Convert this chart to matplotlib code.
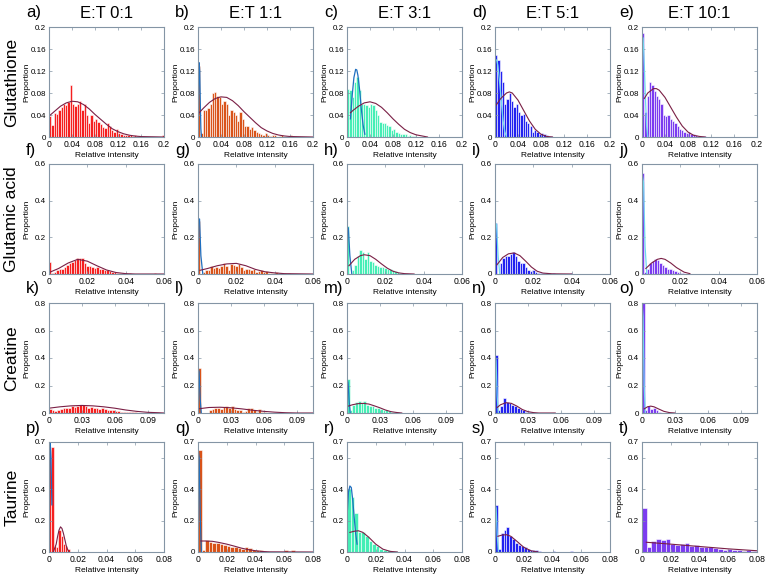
import matplotlib
matplotlib.use("Agg")
import matplotlib.pyplot as plt

plt.rcParams['font.family'] = ['Liberation Sans', 'DejaVu Sans']
plt.rcParams['xtick.direction'] = 'in'
plt.rcParams['ytick.direction'] = 'in'

# labels
ratios = ["E:T 0:1", "E:T 1:1", "E:T 3:1", "E:T 5:1", "E:T 10:1"]
metabolites = ["Glutathione", "Glutamic acid", "Creatine", "Taurine"]
letters = "abcdefghijklmnopqrst"

# colours: one per ratio column
bar_colors = ["#f52020", "#d95319", "#45eeb5", "#2222f0", "#7b3cf0"]
narrow_colors = ["#1f6fc0", "#1f6fc0", "#1f6fc0", "#6fd8f0", "#6fd8f0"]
fit_color = "#7a1f45"

# axis ranges per metabolite row
x_max = [0.2, 0.06, 0.105, 0.08]
x_ticks = [[0, 0.04, 0.08, 0.12, 0.16, 0.2],
           [0, 0.02, 0.04, 0.06],
           [0, 0.03, 0.06, 0.09],
           [0, 0.02, 0.04, 0.06, 0.08]]
x_ticklabels = [["0", "0.04", "0.08", "0.12", "0.16", "0.2"],
                ["0", "0.02", "0.04", "0.06"],
                ["0", "0.03", "0.06", "0.09"],
                ["0", "0.02", "0.04", "0.06", "0.08"]]
y_max = [0.2, 0.6, 0.8, 0.7]
y_ticks = [[0, 0.04, 0.08, 0.12, 0.16, 0.2],
           [0, 0.2, 0.4, 0.6],
           [0, 0.2, 0.4, 0.6, 0.8],
           [0, 0.2, 0.4, 0.6, 0.7]]
y_ticklabels = [["0", "0.04", "0.08", "0.12", "0.16", "0.2"],
                ["0", "0.2", "0.4", "0.6"],
                ["0", "0.2", "0.4", "0.6", "0.8"],
                ["0", "0.2", "0.4", "0.6", "0.7"]]

# histogram bin widths
bin_widths = [[0.004, 0.004, 0.004, 0.004, 0.004],
              [0.0013, 0.0013, 0.0013, 0.0013, 0.0013],
              [0.0025, 0.0025, 0.0025, 0.0025, 0.0025],
              [0.0016, 0.0025, 0.0025, 0.002, 0.0033]]

# ---- Glutathione (a-e) ----
glutathione_bars = [
    [0.039, 0.022, 0.043, 0.041, 0.05, 0.055, 0.06, 0.058, 0.063, 0.095,
     0.06, 0.057, 0.06, 0.065, 0.05, 0.06, 0.04, 0.025, 0.04, 0.03,
     0.033, 0.028, 0.024, 0.018, 0.016, 0.025, 0.02, 0.012, 0.01, 0.015,
     0.007, 0.006, 0.004, 0.003, 0.003, 0.003, 0.002, 0.003, 0.002, 0,
     0, 0, 0, 0, 0, 0, 0, 0, 0, 0.003],
    [0.13, 0.008, 0.05, 0.05, 0.052, 0.06, 0.08, 0.082, 0.075, 0.072,
     0.06, 0.065, 0.06, 0.04, 0.05, 0.045, 0.04, 0.03, 0.045, 0.033,
     0.02, 0.02, 0.015, 0.018, 0.012, 0.01, 0.008, 0.005, 0.003, 0.008,
     0.004, 0.002, 0.004, 0.003, 0, 0.002, 0.003, 0, 0, 0, 0.003],
    [0.088, 0.085, 0.072, 0.1, 0.11, 0.085, 0.06, 0.06, 0.058, 0.055,
     0.06, 0.058, 0.05, 0.04, 0.027, 0.025, 0.025, 0.022, 0.02, 0.012,
     0.015, 0.01, 0.008, 0.006, 0.005, 0.006, 0.002, 0.003, 0.001, 0.002],
    [0.15, 0.14, 0.12, 0.1, 0.06, 0.07, 0.08, 0.065, 0.055, 0.06,
     0.045, 0.04, 0.042, 0.03, 0.025, 0.02, 0.01, 0.013, 0.01, 0.005,
     0.008, 0.006, 0.004, 0.002, 0.002],
    [0.19, 0.045, 0.075, 0.1, 0.095, 0.083, 0.075, 0.07, 0.06, 0.04,
     0.038, 0.04, 0.033, 0.03, 0.025, 0.02, 0.015, 0.012, 0.01, 0.008,
     0.01, 0.006, 0.005, 0.004, 0.002, 0.002, 0.001, 0.001],
]
glutathione_fit_x = [
    [0, 0.01, 0.02, 0.03, 0.04, 0.05, 0.06, 0.07, 0.08, 0.09, 0.1, 0.11,
     0.12, 0.13, 0.14, 0.15, 0.16, 0.2],
    [0, 0.01, 0.02, 0.03, 0.04, 0.05, 0.06, 0.07, 0.08, 0.09, 0.1, 0.11,
     0.12, 0.13, 0.14, 0.15, 0.16, 0.2],
    [0.006, 0.01, 0.02, 0.03, 0.04, 0.05, 0.06, 0.07, 0.08, 0.09, 0.1,
     0.11, 0.12, 0.13, 0.14],
    [0.002, 0.01, 0.02, 0.025, 0.03, 0.04, 0.05, 0.06, 0.07, 0.08, 0.09,
     0.1],
    [0.004, 0.01, 0.02, 0.025, 0.03, 0.04, 0.05, 0.06, 0.07, 0.08, 0.09,
     0.1, 0.11],
]
glutathione_fit_y = [
    [0.038, 0.047, 0.056, 0.062, 0.065, 0.064, 0.059, 0.051, 0.041, 0.032,
     0.023, 0.015, 0.0097, 0.0058, 0.0032, 0.0017, 0.0008, 0],
    [0.042, 0.053, 0.063, 0.07, 0.073, 0.072, 0.066, 0.057, 0.046, 0.036,
     0.026, 0.017, 0.011, 0.0065, 0.0036, 0.0019, 0.0009, 0],
    [0.044, 0.048, 0.056, 0.062, 0.064, 0.061, 0.054, 0.044, 0.033, 0.023,
     0.014, 0.008, 0.004, 0.002, 0],
    [0.058, 0.07, 0.08, 0.082, 0.08, 0.067, 0.048, 0.029, 0.014, 0.005,
     0.001, 0],
    [0.07, 0.08, 0.088, 0.088, 0.085, 0.072, 0.054, 0.036, 0.02, 0.009,
     0.003, 0.001, 0],
]
glutathione_narrow_x = [
    None,
    [0, 0.001, 0.002, 0.003, 0.004, 0.005, 0.006],
    [0.006, 0.009, 0.012, 0.015, 0.017, 0.019, 0.022, 0.025, 0.028, 0.031],
    [0.001, 0.003, 0.005, 0.008, 0.011, 0.014, 0.017, 0.02],
    [0.002, 0.004, 0.006, 0.008, 0.01],
]
glutathione_narrow_y = [
    None,
    [0.02, 0.09, 0.135, 0.12, 0.06, 0.015, 0],
    [0.033, 0.075, 0.108, 0.123, 0.122, 0.112, 0.085, 0.05, 0.022, 0.005],
    [0.14, 0.14, 0.13, 0.1, 0.065, 0.03, 0.01, 0],
    [0.18, 0.13, 0.07, 0.02, 0],
]

# ---- Glutamic acid (f-j) ----
glutamic_bars = [
    [0.065, 0.005, 0.01, 0.02, 0.025, 0.03, 0.04, 0.05, 0.06, 0.065,
     0.075, 0.09, 0.085, 0.09, 0.06, 0.045, 0.045, 0.04, 0.035, 0.04,
     0.03, 0.025, 0.02, 0.02, 0.015, 0.012, 0.01, 0.005, 0.008, 0.004,
     0.003, 0.002, 0.003, 0.002, 0.001, 0.002, 0, 0, 0, 0, 0, 0, 0.005],
    [0.29, 0, 0.01, 0.02, 0.02, 0.045, 0.035, 0.04, 0.035, 0.045,
     0.06, 0.045, 0.02, 0.055, 0.05, 0.045, 0.055, 0.04, 0.02, 0.025,
     0.03, 0.02, 0.025, 0.01, 0.015, 0.02, 0.01, 0.015, 0.008, 0.005,
     0.005, 0.01, 0.003, 0.003, 0.003, 0, 0.005],
    [0.26, 0, 0.02, 0.05, 0.1, 0.13, 0.12, 0.08, 0.12, 0.07,
     0.065, 0.05, 0.045, 0.04, 0.04, 0.035, 0.03, 0.025, 0.02, 0.015,
     0.012, 0.008, 0.005],
    [0.28, 0, 0.06, 0.09, 0.1, 0.1, 0.11, 0.12, 0.1, 0.07,
     0.06, 0.06, 0.04, 0.02, 0.015, 0.02, 0.01, 0.005, 0.003, 0.008,
     0.006, 0.003, 0, 0.005, 0, 0, 0, 0, 0, 0, 0.004],
    [0.55, 0.01, 0.03, 0.06, 0.07, 0.08, 0.075, 0.06, 0.05, 0.04,
     0.03, 0.025, 0.02, 0.015, 0.01, 0.008, 0.005],
]
glutamic_fit_x = [
    [0, 0.005, 0.01, 0.015, 0.02, 0.025, 0.03, 0.035, 0.04, 0.045, 0.06],
    [0.001, 0.005, 0.01, 0.015, 0.02, 0.025, 0.03, 0.035, 0.04, 0.045, 0.06],
    [0.001, 0.004, 0.007, 0.009, 0.012, 0.015, 0.018, 0.021, 0.024, 0.027,
     0.03, 0.035],
    [0.001, 0.004, 0.007, 0.01, 0.013, 0.016, 0.019, 0.022, 0.025, 0.03,
     0.04],
    [0.002, 0.005, 0.008, 0.01, 0.012, 0.015, 0.018, 0.022, 0.025],
]
glutamic_fit_y = [
    [0.008, 0.03, 0.06, 0.08, 0.07, 0.045, 0.022, 0.008, 0.002, 0, 0],
    [0.02, 0.03, 0.045, 0.055, 0.058, 0.045, 0.025, 0.012, 0.006, 0.002, 0],
    [0.045, 0.08, 0.1, 0.105, 0.1, 0.08, 0.055, 0.032, 0.015, 0.006,
     0.002, 0],
    [0.05, 0.09, 0.11, 0.115, 0.1, 0.07, 0.038, 0.015, 0.005, 0.001, 0],
    [0.03, 0.06, 0.08, 0.085, 0.08, 0.06, 0.035, 0.01, 0.002],
]
glutamic_narrow_x = [
    None,
    [0, 0.0008, 0.0015, 0.0025],
    [0, 0.0007, 0.0015, 0.0025],
    [0, 0.0008, 0.0016, 0.0025],
    [0, 0.0008, 0.0016, 0.0025],
]
glutamic_narrow_y = [
    None,
    [0.3, 0.3, 0.1, 0],
    [0.26, 0.25, 0.1, 0],
    [0.28, 0.27, 0.1, 0],
    [0.55, 0.5, 0.15, 0],
]

# ---- Creatine (k-o) ----
creatine_bars = [
    [0.03, 0.02, 0.015, 0.02, 0.03, 0.04, 0.035, 0.04, 0.05, 0.045,
     0.05, 0.06, 0.055, 0.05, 0.04, 0.045, 0.04, 0.035, 0.03, 0.04,
     0.03, 0.025, 0.02, 0.02, 0.015, 0.012, 0.01, 0.008, 0.01, 0.005,
     0.006, 0.004, 0.003, 0.002],
    [0.33, 0, 0, 0, 0.02, 0.03, 0.04, 0.04, 0.03, 0.045,
     0.05, 0.04, 0.05, 0.03, 0.02, 0.025, 0.01, 0.015, 0.035, 0.04,
     0.02, 0.01, 0.03, 0.01, 0.005],
    [0.25, 0.02, 0.06, 0.08, 0.09, 0.07, 0.09, 0.06, 0.05, 0.05,
     0.04, 0.04, 0.03, 0.025, 0.02, 0.015, 0.01, 0.008, 0.005],
    [0.42, 0.02, 0.05, 0.11, 0.08, 0.07, 0.06, 0.05, 0.04, 0.03,
     0.02, 0.01, 0.008, 0.005],
    [0.8, 0.02, 0.05, 0.03, 0.04, 0.02, 0.01],
]
creatine_fit_x = [
    [0, 0.01, 0.02, 0.03, 0.04, 0.05, 0.06, 0.07, 0.08, 0.09, 0.1, 0.105],
    [0, 0.01, 0.02, 0.03, 0.04, 0.05, 0.06, 0.07, 0.08, 0.09, 0.105],
    [0.001, 0.005, 0.01, 0.015, 0.02, 0.025, 0.03, 0.035, 0.04, 0.045, 0.05],
    [0.002, 0.005, 0.01, 0.015, 0.02, 0.025, 0.03, 0.035, 0.04, 0.055],
    [0.002, 0.005, 0.008, 0.011, 0.015, 0.02, 0.025, 0.03],
]
creatine_fit_y = [
    [0.035, 0.045, 0.052, 0.055, 0.052, 0.045, 0.035, 0.022, 0.012, 0.005,
     0.002, 0],
    [0.03, 0.04, 0.042, 0.038, 0.03, 0.02, 0.012, 0.006, 0.002, 0, 0],
    [0.05, 0.06, 0.068, 0.07, 0.065, 0.052, 0.038, 0.022, 0.01, 0.004, 0],
    [0.04, 0.06, 0.075, 0.07, 0.05, 0.025, 0.01, 0.003, 0, 0],
    [0.03, 0.045, 0.05, 0.045, 0.03, 0.012, 0.003, 0],
]
creatine_narrow_x = [
    None,
    [0, 0.001, 0.002, 0.003],
    [0, 0.001, 0.002, 0.003],
    [0, 0.001, 0.002, 0.003],
    [0, 0.001, 0.002, 0.003],
]
creatine_narrow_y = [
    None,
    [0.33, 0.3, 0.1, 0],
    [0.25, 0.22, 0.08, 0],
    [0.42, 0.38, 0.12, 0],
    [0.8, 0.7, 0.2, 0],
]

# ---- Taurine (p-t) ----
taurine_bars = [
    [0.65, 0.67, 0.04, 0.03, 0.14, 0.1, 0.05, 0.04, 0.02],
    [0.65, 0.01, 0.075, 0.065, 0.06, 0.055, 0.05, 0.045, 0.04, 0.035,
     0.03, 0.025, 0.02, 0.03, 0.025, 0.015, 0.012, 0.01, 0.005, 0,
     0, 0, 0, 0, 0.01, 0, 0.01],
    [0.4, 0.35, 0.25, 0.13, 0.13, 0.1, 0.07, 0.05, 0.04, 0.02,
     0.015, 0.01, 0.005, 0.005, 0.003, 0.003, 0.002, 0.003],
    [0.3, 0.02, 0.12, 0.14, 0.16, 0.1, 0.08, 0.06, 0.045, 0.04,
     0.03, 0.02, 0.015, 0.01, 0.01, 0.008, 0, 0, 0, 0,
     0.006, 0, 0, 0, 0, 0, 0.005, 0, 0, 0, 0, 0, 0, 0.003],
    [0.28, 0.03, 0.07, 0.08, 0.075, 0.08, 0.05, 0.045, 0.05, 0.055,
     0.04, 0.045, 0.035, 0.03, 0.035, 0.025, 0.02, 0.015, 0.02, 0.015,
     0.01, 0.008, 0.01, 0.005],
]
taurine_fit_x = [
    [0.003, 0.005, 0.006, 0.007, 0.008, 0.009, 0.01, 0.011, 0.012, 0.013,
     0.014],
    [0.002, 0.005, 0.01, 0.015, 0.02, 0.025, 0.03, 0.035, 0.04, 0.045,
     0.05, 0.08],
    [0.002, 0.005, 0.008, 0.011, 0.015, 0.02, 0.025, 0.03, 0.035],
    [0.002, 0.005, 0.008, 0.011, 0.015, 0.02, 0.025, 0.03],
    [0.003, 0.02, 0.04, 0.06, 0.08],
]
taurine_fit_y = [
    [0, 0.05, 0.1, 0.14, 0.16, 0.15, 0.12, 0.08, 0.04, 0.015, 0],
    [0.07, 0.07, 0.068, 0.06, 0.05, 0.038, 0.025, 0.015, 0.008, 0.003,
     0.001, 0],
    [0.125, 0.132, 0.135, 0.125, 0.095, 0.05, 0.018, 0.004, 0],
    [0.1, 0.108, 0.11, 0.1, 0.07, 0.03, 0.008, 0],
    [0.062, 0.05, 0.035, 0.02, 0.008],
]
taurine_narrow_x = [
    [0.0002, 0.0008, 0.0014, 0.002],
    [0, 0.0008, 0.0016, 0.0024],
    [0, 0.001, 0.002, 0.003, 0.004, 0.005, 0.006, 0.007],
    [0, 0.0008, 0.0016, 0.0024],
    None,
]
taurine_narrow_y = [
    [0.46, 0.7, 0.6, 0.3],
    [0.66, 0.6, 0.2, 0],
    [0.22, 0.38, 0.42, 0.41, 0.33, 0.22, 0.12, 0.05],
    [0.3, 0.28, 0.1, 0],
    None,
]

rows = [
    (glutathione_bars, glutathione_fit_x, glutathione_fit_y,
     glutathione_narrow_x, glutathione_narrow_y),
    (glutamic_bars, glutamic_fit_x, glutamic_fit_y,
     glutamic_narrow_x, glutamic_narrow_y),
    (creatine_bars, creatine_fit_x, creatine_fit_y,
     creatine_narrow_x, creatine_narrow_y),
    (taurine_bars, taurine_fit_x, taurine_fit_y,
     taurine_narrow_x, taurine_narrow_y),
]

W, H = 766, 577
fig = plt.figure(figsize=(W / 100, H / 100), dpi=100)

col_left = [49, 198, 347, 495, 642]
row_top = [27, 164, 303, 442]
ax_w, ax_h = 115, 110
spine_color = "#8495a5"

for r, (bars, fx, fy, nx, ny) in enumerate(rows):
    for c in range(5):
        left = col_left[c] / W
        bottom = 1 - (row_top[r] + ax_h) / H
        ax = fig.add_axes([left, bottom, ax_w / W, ax_h / H])

        bw = bin_widths[r][c]
        edges = [i * bw for i in range(len(bars[c]))]
        ax.bar(edges, bars[c], width=bw, align='edge', color=bar_colors[c],
               edgecolor='white', linewidth=0.4)
        if nx[c] is not None:
            ax.plot(nx[c], ny[c], color=narrow_colors[c], linewidth=0.9)
        ax.plot(fx[c], fy[c], color=fit_color, linewidth=0.8)

        ax.set_xlim(0, x_max[r])
        ax.set_ylim(0, y_max[r])
        ax.set_xticks(x_ticks[r])
        ax.set_xticklabels(x_ticklabels[r])
        ax.set_yticks(y_ticks[r])
        ax.set_yticklabels(y_ticklabels[r])
        ax.tick_params(length=2, width=0.5, top=True, right=True,
                       color=spine_color)
        ax.tick_params(axis='x', labelsize=6.2, pad=2.5)
        ax.tick_params(axis='y', labelsize=5.8, pad=2)
        for s in ax.spines.values():
            s.set_color(spine_color)
            s.set_linewidth(0.8)
        ax.set_xlabel("Relative intensity", fontsize=6, labelpad=1.5)
        ax.set_ylabel("Proportion", fontsize=6)
        ax.yaxis.set_label_coords(-19 / ax_w, 0.5)

        # panel letter, left-aligned so it clears the tick labels above
        fig.text((col_left[c] - 23) / W, 1 - (row_top[r] - 14) / H,
                 letters[r * 5 + c] + ")", fontsize=12, ha='left',
                 va='center')
        if r == 0:
            fig.text((col_left[c] + ax_w / 2) / W, 1 - 13 / H, ratios[c],
                     fontsize=12, ha='center', va='center')

    fig.text(12 / W, 1 - (row_top[r] + ax_h / 2) / H, metabolites[r],
             fontsize=12.5, rotation=90, ha='center', va='center')

plt.savefig("out.png", dpi=100)
